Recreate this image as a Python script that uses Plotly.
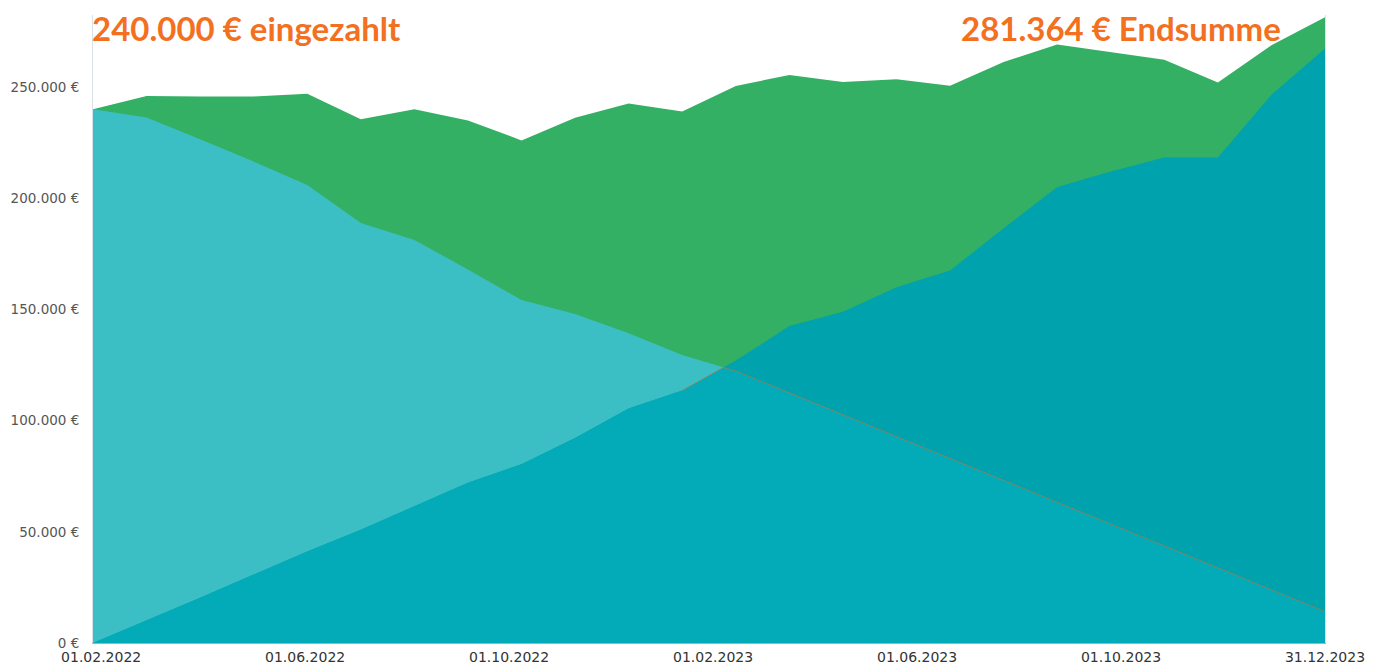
import numpy as np
import plotly.graph_objects as go

# ---- data ----
gesamt = [240000, 246000, 245700, 245800, 247000, 235500, 240000, 235000, 226000, 236200,
          242600, 239000, 250500, 255400, 252300, 253500, 250600, 261300, 269100, 265800,
          262300, 252000, 268800, 281364]
tagesgeld = [240000, 236300, 226500, 216500, 206000, 188900, 181200, 168000, 154200, 148000,
             139300, 129500, 122300, 112500, 102600, 92800, 83000, 73100, 63300, 53400,
             43600, 33800, 23900, 14100]
etf = [0, 10100, 20400, 30800, 41200, 50900, 61500, 72100, 80400, 92200,
       105500, 113500, 127000, 142500, 149000, 160000, 167500, 186500, 205000, 212000,
       218300, 218300, 246500, 267300]
x_labels = ["01.02.2022", "01.06.2022", "01.10.2022", "01.02.2023",
            "01.06.2023", "01.10.2023", "31.12.2023"]
y_ticks = [0, 50000, 100000, 150000, 200000, 250000]
title_left = "240.000 € eingezahlt"
title_right = "281.364 € Endsumme"

x = list(range(len(gesamt)))


def lower_envelope(xv, a, b):
    xs, ys = [], []
    for i in range(len(xv)):
        if i > 0:
            d0 = a[i - 1] - b[i - 1]
            d1 = a[i] - b[i]
            if d0 * d1 < 0:
                t = d0 / (d0 - d1)
                xs.append(xv[i - 1] + t * (xv[i] - xv[i - 1]))
                ys.append(a[i - 1] + t * (a[i] - a[i - 1]))
        xs.append(xv[i])
        ys.append(min(a[i], b[i]))
    return xs, ys


mx, my = lower_envelope(x, tagesgeld, etf)

GREEN = "#33b063"
LIGHT = "#3cbfc4"
DARK_OVER = "#00a2ad"
BASE = "#03aab8"

fig = go.Figure()
fig.add_trace(go.Scatter(x=x, y=gesamt, mode="lines", fill="tozeroy",
                         fillcolor=GREEN, line=dict(width=0, color=GREEN),
                         hoverinfo="skip", showlegend=False))
fig.add_trace(go.Scatter(x=x, y=tagesgeld, mode="lines", fill="tozeroy",
                         fillcolor=LIGHT, line=dict(width=0, color=LIGHT),
                         hoverinfo="skip", showlegend=False))
fig.add_trace(go.Scatter(x=x, y=etf, mode="lines", fill="tozeroy",
                         fillcolor=DARK_OVER, line=dict(width=0, color=DARK_OVER),
                         hoverinfo="skip", showlegend=False))
fig.add_trace(go.Scatter(x=mx, y=my, mode="lines", fill="tozeroy",
                         fillcolor=BASE, line=dict(width=0, color=BASE),
                         hoverinfo="skip", showlegend=False))
# thin orange guide line along the lower envelope (right part)
start = next(i for i, v in enumerate(mx) if v >= 11)
fig.add_trace(go.Scatter(x=mx[start:], y=my[start:], mode="lines",
                         line=dict(width=1, color="rgba(214,112,45,0.6)"),
                         hoverinfo="skip", showlegend=False))

n_int = len(x) - 1
tick_step = 3.808
tickvals = [n_int - tick_step * (len(x_labels) - 1 - k) for k in range(len(x_labels))]

# the page body adds an 8px offset; the figure is sized to fit the 1381x665 window
W, H = 1373, 657
ML, MT, PW, PH = 85, 7, 1232, 628
fig.update_layout(
    width=W, height=H,
    margin=dict(l=ML, r=W - ML - PW, t=MT, b=H - MT - PH, autoexpand=False),
    paper_bgcolor="white", plot_bgcolor="white",
    showlegend=False,
    xaxis=dict(range=[0, n_int], tickvals=tickvals, ticktext=x_labels,
               showgrid=False, zeroline=False, showline=True, automargin=False,
               linecolor="#d9a47a", linewidth=1,
               ticks="outside", ticklen=1, tickcolor="rgba(0,0,0,0)",
               tickfont=dict(family="DejaVu Sans", size=14, color="#333333")),
    yaxis=dict(range=[0, 282400], tickvals=y_ticks, automargin=False,
               ticktext=[f"{v:,}".replace(",", ".") + " €" for v in y_ticks],
               showgrid=False, zeroline=False, showline=True, mirror=True,
               linecolor="#dbe1e7", linewidth=1,
               ticks="outside", ticklen=10, tickcolor="rgba(0,0,0,0)",
               tickfont=dict(family="DejaVu Sans", size=13.5, color="#555555")),
)

ymid = 1 - (28 - 15) / PH
fig.add_annotation(text=title_left, xref="x", x=0, xanchor="left", xshift=-3,
                   yref="paper", y=ymid, yanchor="middle", showarrow=False,
                   font=dict(family="Lato", size=33, color="#f37021", weight="bold"))
fig.add_annotation(text=title_right, xref="x", x=n_int, xanchor="right", xshift=-42,
                   yref="paper", y=ymid, yanchor="middle", showarrow=False,
                   font=dict(family="Lato", size=33, color="#f37021", weight="bold"))

fig.write_html("out.html")
